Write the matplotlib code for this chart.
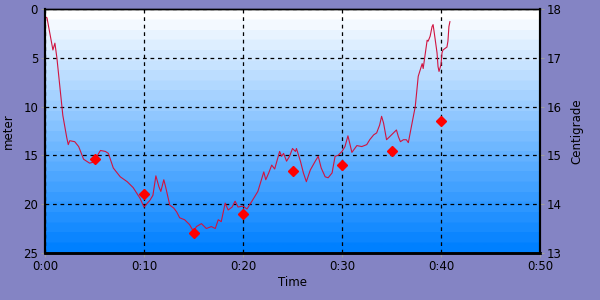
import numpy as np
import matplotlib
matplotlib.use('Agg')
import matplotlib.pyplot as plt
from matplotlib.colors import LinearSegmentedColormap

# depth profile (minutes, meters)
depth_time = [0.0, 0.2, 0.8, 1.0, 1.2, 1.8, 2.2, 2.35, 2.5, 3.0, 3.4, 3.9, 4.5, 4.9,
              5.6, 6.1, 6.4, 6.9, 7.6, 8.3, 8.9, 9.6, 10.0, 10.6, 10.9, 11.2, 11.5,
              11.7, 12.0, 12.2, 12.6, 13.0, 13.3, 13.6, 14.1, 14.6, 15.0, 15.3, 15.8,
              16.3, 16.8, 17.2, 17.5, 17.8, 18.2, 18.5, 18.9, 19.2, 19.5, 20.0, 20.4,
              20.9, 21.2, 21.5, 22.1, 22.3, 22.6, 22.9, 23.2, 23.7, 23.9, 24.1, 24.4,
              24.7, 25.0, 25.3, 25.4, 25.8, 26.1, 26.4, 26.8, 27.3, 27.6, 27.9, 28.3,
              28.6, 29.0, 29.3, 29.6, 30.0, 30.3, 30.6, 31.0, 31.5, 32.0, 32.5, 32.8,
              33.2, 33.5, 33.8, 34.0, 34.2, 34.5, 34.8, 35.2, 35.5, 35.7, 35.9, 36.2,
              36.5, 36.7, 37.0, 37.4, 37.7, 38.1, 38.2, 38.6, 38.7, 38.9, 39.1, 39.2,
              39.3, 39.6, 39.7, 39.8, 40.0, 40.1, 40.2, 40.6, 40.7, 40.8, 40.9]
depth_m = [0.8, 0.9, 4.2, 3.5, 5.0, 10.9, 13.2, 13.9, 13.5, 13.6, 14.1, 15.4, 15.8, 15.7,
           14.5, 14.6, 14.8, 16.3, 17.2, 17.7, 18.3, 19.4, 20.3, 19.6, 19.1, 17.1, 18.2,
           18.7, 17.5, 18.3, 20.1, 20.4, 20.8, 21.4, 21.6, 22.1, 22.8, 22.3, 22.0,
           22.5, 22.3, 22.5, 21.6, 21.8, 19.9, 20.6, 20.3, 19.7, 20.3, 20.2, 20.5,
           19.7, 19.2, 18.7, 16.7, 17.5, 16.8, 16.0, 16.4, 14.6, 15.1, 14.8, 15.6,
           15.1, 14.3, 14.6, 14.3, 15.6, 16.8, 17.7, 16.5, 15.6, 15.1, 16.3, 17.2,
           17.3, 16.8, 15.1, 15.0, 14.6, 14.1, 13.0, 14.7, 14.0, 14.1, 13.9, 13.4,
           12.9, 12.7, 11.9, 11.0, 11.7, 13.4, 13.1, 12.7, 12.4, 13.1, 13.6, 13.4,
           13.4, 13.7, 12.1, 10.0, 6.9, 5.6, 6.1, 3.2, 3.3, 2.8, 1.8, 1.6,
           2.3, 4.5, 5.9, 6.4, 5.7, 4.5, 4.2, 3.9, 3.3, 1.8, 1.3]

# water temperature samples (minutes, centigrade)
temp_time = [5, 10, 15, 20, 25, 30, 35, 40]
temp_c = [14.92, 14.2, 13.4, 13.8, 14.68, 14.8, 15.09, 15.7]

x_ticks = [0, 10, 20, 30, 40, 50]
x_labels = ['0:00', '0:10', '0:20', '0:30', '0:40', '0:50']

bg = '#8484c4'
fig = plt.figure(figsize=(6, 3), dpi=100, facecolor=bg)
ax = fig.add_axes([0.075, 0.157, 0.825, 0.813])

# stepped white-to-blue background
cmap = LinearSegmentedColormap.from_list('sky', ['#ffffff', '#0080ff'], N=24)
grad = np.linspace(0, 1, 256).reshape(-1, 1)
ax.imshow(grad, cmap=cmap, aspect='auto', extent=[0, 50, 25, 0], zorder=0)

ax.plot(depth_time, depth_m, color='#d01440', lw=0.8, zorder=3)
ax.set_xlim(0, 50)
ax.set_ylim(25, 0)
ax.set_xticks(x_ticks)
ax.set_xticklabels(x_labels)
ax.set_yticks([0, 5, 10, 15, 20, 25])
ax.grid(True, color='black', linestyle=(0, (3, 3)), linewidth=0.9)
ax.set_xlabel('Time', fontsize=8.5, labelpad=2)
ax.set_ylabel('meter', fontsize=8.5, labelpad=6)
ax.tick_params(labelsize=8.5, length=3, color='#a0a0a0', pad=2)

ax2 = ax.twinx()
ax2.plot(temp_time, temp_c, linestyle='none', marker='D', markersize=5.5,
         color='#ff0000', zorder=4)
ax2.set_ylim(13, 18)
ax2.set_yticks([13, 14, 15, 16, 17, 18])
ax2.set_ylabel('Centigrade', fontsize=8.5, labelpad=6)
ax2.tick_params(labelsize=8.5, length=3, color='#a0a0a0', pad=2)

for a in (ax, ax2):
    for s in a.spines.values():
        s.set_color('black')
        s.set_linewidth(1.0)
    a.spines['bottom'].set_linewidth(1.8)
    a.spines['left'].set_linewidth(1.5)
    a.spines['right'].set_linewidth(1.5)

fig.savefig('out.png', dpi=100, facecolor=bg)
